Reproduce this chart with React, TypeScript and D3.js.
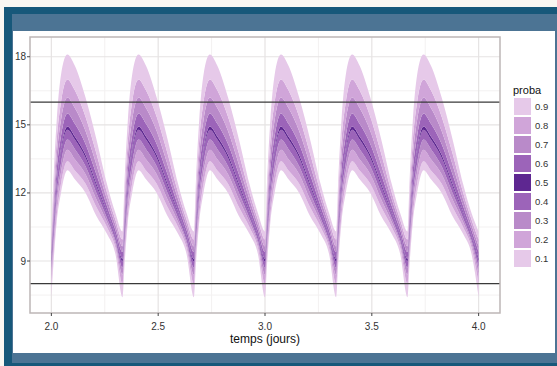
import React from 'react';
import * as d3 from 'd3';

// Dosing schedule (days) and end of the simulated window
const doseTimes = [2.0, 2.333, 2.667, 3.0, 3.333, 3.667];
const endTime = 4.0;

// Time since dose (days) at which the quantile curves are tabulated
const cycleOffsets = [0, 0.01, 0.025, 0.045, 0.075, 0.11, 0.16, 0.21, 0.26, 0.3, 0.333];

// Concentration quantiles over one dosing interval (steady state)
const q05 = [7.4, 8.9, 10.7, 12.0, 13.0, 12.6, 12.0, 11.0, 10.2, 9.3, 7.4];
const q15 = [8.0, 9.3, 11.0, 12.4, 13.4, 12.99, 12.41, 11.39, 10.5, 9.58, 8.0];
const q25 = [8.4, 9.7, 11.5, 12.9, 13.9, 13.48, 12.82, 11.73, 10.72, 9.76, 8.4];
const q35 = [8.7, 10.0, 11.9, 13.3, 14.35, 13.93, 13.18, 12.02, 10.9, 9.9, 8.7];
const q45 = [8.98, 10.35, 12.3, 13.78, 14.78, 14.35, 13.55, 12.32, 11.1, 10.07, 8.98];
const q55 = [9.1, 10.48, 12.45, 13.93, 14.93, 14.49, 13.68, 12.43, 11.18, 10.14, 9.1];
const q65 = [9.4, 10.9, 13.0, 14.5, 15.5, 15.05, 14.16, 12.84, 11.44, 10.36, 9.4];
const q75 = [9.65, 11.4, 13.6, 15.2, 16.2, 15.74, 14.73, 13.28, 11.73, 10.59, 9.65];
const q85 = [9.95, 11.9, 14.3, 16.0, 17.0, 16.52, 15.36, 13.77, 12.03, 10.82, 9.95];
const q95 = [10.3, 12.6, 15.2, 17.2, 18.1, 17.6, 16.2, 14.4, 12.4, 11.1, 10.3];
const quantileCurves = [q05, q15, q25, q35, q45, q55, q65, q75, q85, q95];

// Ribbon labels (between consecutive quantile curves) and their fills
const probaLevels = ['0.1', '0.2', '0.3', '0.4', '0.5', '0.6', '0.7', '0.8', '0.9'];
const probaColors = ['#e6c9e9', '#d0a5d9', '#b98ac9', '#9c64b9', '#5e2791', '#9c64b9', '#b98ac9', '#d0a5d9', '#e6c9e9'];

// Reference concentration thresholds
const thresholds = [8, 16];

const xTicks = [2.0, 2.5, 3.0, 3.5, 4.0];
const xMinor = [2.25, 2.75, 3.25, 3.75];
const yTicks = [9, 12, 15, 18];
const yMinor = [7.5, 10.5, 13.5, 16.5];

const W = 557;
const H = 366;
const panel = { left: 30, right: 500, top: 37, bottom: 313 };
const font = '"Liberation Sans", Arial, sans-serif';

function seriesFor(curve: number[]) {
  const pts: { t: number; v: number }[] = [];
  doseTimes.forEach((d, i) => {
    const last = i === doseTimes.length - 1;
    cycleOffsets.forEach((o, j) => {
      if (j === cycleOffsets.length - 1 && !last) return;
      const t = j === cycleOffsets.length - 1 ? endTime : d + o;
      pts.push({ t, v: curve[j] });
    });
  });
  return pts;
}

export default function App() {
  const x = d3.scaleLinear().domain([1.9, 4.1]).range([panel.left, panel.right]);
  const y = d3.scaleLinear().domain([6.71, 18.87]).range([panel.bottom, panel.top]);

  const series = quantileCurves.map(seriesFor);
  const area = d3
    .area<{ t: number; lo: number; hi: number }>()
    .x((d) => x(d.t))
    .y0((d) => y(d.lo))
    .y1((d) => y(d.hi))
    .curve(d3.curveMonotoneX);

  const ribbons = probaLevels.map((lvl, i) => {
    const lo = series[i];
    const hi = series[i + 1];
    const data = lo.map((p, k) => ({ t: p.t, lo: p.v, hi: hi[k].v }));
    return { lvl, color: probaColors[i], d: area(data) || '' };
  });

  const legendX = 514;
  const legendY = 98;
  const keyStep = 19;
  const keySize = 17;
  const legendItems = probaLevels.map((l, i) => ({ l, c: probaColors[i] })).reverse();

  return (
    <svg
      width={W}
      height={H}
      style={{ position: 'absolute', left: 0, top: 0, display: 'block' }}
      fontFamily={font}
    >
      {/* page frame */}
      <rect x={0} y={0} width={W} height={H} fill="#faf7f2" />
      <rect x={4} y={7} width={W - 4} height={H - 7} fill="#17587a" />
      <rect x={12} y={14} width={W - 12} height={349} fill="#4c7494" />
      <rect x={13} y={31} width={542} height={322} fill="#ffffff" />

      {/* grid */}
      {xMinor.map((v) => (
        <line key={'xm' + v} x1={x(v)} x2={x(v)} y1={panel.top} y2={panel.bottom} stroke="#f3f1f1" strokeWidth={1} />
      ))}
      {yMinor.map((v) => (
        <line key={'ym' + v} x1={panel.left} x2={panel.right} y1={y(v)} y2={y(v)} stroke="#f3f1f1" strokeWidth={1} />
      ))}
      {xTicks.map((v) => (
        <line key={'xg' + v} x1={x(v)} x2={x(v)} y1={panel.top} y2={panel.bottom} stroke="#e6e3e3" strokeWidth={1.2} />
      ))}
      {yTicks.map((v) => (
        <line key={'yg' + v} x1={panel.left} x2={panel.right} y1={y(v)} y2={y(v)} stroke="#e6e3e3" strokeWidth={1.2} />
      ))}

      {/* quantile ribbons */}
      {ribbons.map((r) => (
        <path key={'r' + r.lvl} d={r.d} fill={r.color} stroke="none" />
      ))}

      {/* thresholds */}
      {thresholds.map((v) => (
        <line key={'h' + v} x1={panel.left} x2={panel.right} y1={y(v)} y2={y(v)} stroke="#3a3a3a" strokeWidth={1.3} />
      ))}

      {/* panel border */}
      <rect
        x={panel.left}
        y={panel.top}
        width={panel.right - panel.left}
        height={panel.bottom - panel.top}
        fill="none"
        stroke="#bdb6b6"
        strokeWidth={1.5}
      />

      {/* y axis */}
      {yTicks.map((v) => (
        <g key={'yt' + v}>
          <line x1={panel.left - 3} x2={panel.left} y1={y(v)} y2={y(v)} stroke="#444" strokeWidth={1} />
          <text x={panel.left - 4} y={y(v)} dy="0.35em" textAnchor="end" fontSize={10} fill="#333">
            {v}
          </text>
        </g>
      ))}

      {/* x axis */}
      {xTicks.map((v) => (
        <g key={'xt' + v}>
          <line x1={x(v)} x2={x(v)} y1={panel.bottom} y2={panel.bottom + 3} stroke="#444" strokeWidth={1} />
          <text x={x(v)} y={panel.bottom + 13} dy="0.35em" textAnchor="middle" fontSize={10} fill="#333">
            {v.toFixed(1)}
          </text>
        </g>
      ))}
      <text x={(panel.left + panel.right) / 2} y={339} dy="0.35em" textAnchor="middle" fontSize={12} fill="#111">
        temps (jours)
      </text>

      {/* legend */}
      <text x={legendX - 1} y={legendY - 8} fontSize={11} fill="#111" dy="0.35em">
        proba
      </text>
      {legendItems.map((it, i) => (
        <g key={'lg' + it.l}>
          <rect x={legendX} y={legendY + i * keyStep} width={keySize} height={keySize} fill={it.c} />
          <text x={legendX + keySize + 4} y={legendY + i * keyStep + keySize / 2} dy="0.35em" fontSize={9.5} fill="#333">
            {it.l}
          </text>
        </g>
      ))}
    </svg>
  );
}
